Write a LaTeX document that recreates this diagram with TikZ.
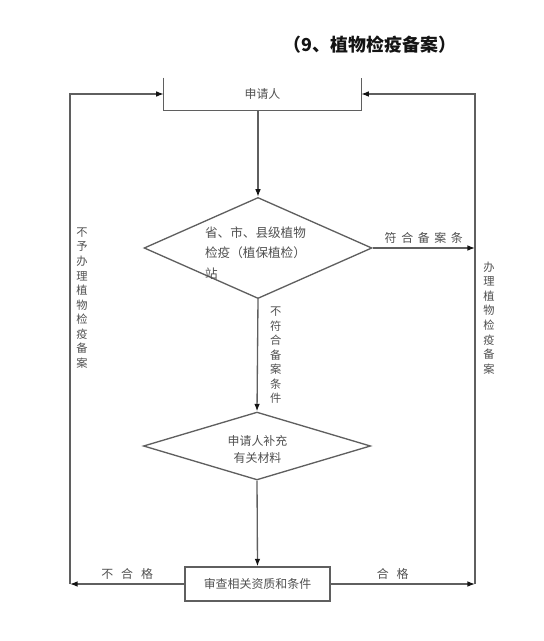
\documentclass[tikz,border=0pt]{standalone}
\usepackage{fontspec}
\setmainfont{Noto Sans CJK SC}
\usetikzlibrary{arrows.meta,positioning,shapes.geometric}
\definecolor{ink}{RGB}{20,20,20}
\definecolor{wiregray}{RGB}{95,95,95}
\definecolor{txtgray}{RGB}{80,80,80}
\newcommand{\chgap}[1][6pt]{\hspace{#1}}
\tikzset{
  flow/.style={line width=1pt,wiregray,-{Latex[length=2mm,width=1.5mm,color=ink]}},
  plain/.style={line width=1pt,wiregray},
  label/.style={font=\fontsize{9}{12}\selectfont,text=txtgray,inner sep=1pt},
  vlabel/.style={font=\fontsize{8.5}{11}\selectfont,text=txtgray,align=center,inner sep=0pt},
  decision/.style={diamond,draw=wiregray,line width=1pt,inner sep=0pt},
  checkbox/.style={draw=wiregray,line width=1pt,minimum width=3.84cm,minimum height=0.9cm,
    font=\fontsize{9}{12}\selectfont,text=txtgray}
}
\begin{document}
\begin{tikzpicture}[x=0.0265cm,y=-0.0265cm]
  \useasboundingbox (0,0) rectangle (543,641);
  \node[font=\bfseries\fontsize{13.5}{16}\selectfont,text=ink] (title) at (370,45) {（9、植物检疫备案）};
  \node[label,minimum width=5.22cm,minimum height=0.85cm] (app) at (262.5,94) {申请人};
  \draw[plain] (app.north west) -- (app.south west) -- (app.south east) -- (app.north east);
  \node[decision,minimum width=6.04cm,minimum height=2.68cm] (d1) at (258,248) {};
  \node[label,align=left,font=\fontsize{9.5}{15.5}\selectfont] (d1txt) at (255.5,253) {省、市、县级植物\\检疫（植保植检）\\站};
  \node[decision,minimum width=6.02cm,minimum height=1.8cm] (d2) at (257,446) {};
  \node[label,align=center,font=\fontsize{9}{12.75}\selectfont] (d2txt) at (257.5,449) {申请人补充\\有关材料};
  \node[checkbox] (chk) at (257.5,584) {审查相关资质和条件};
  \coordinate (lft) at (70,583);
  \coordinate (rgt) at (475,583);
  % connectors
  \draw[flow] (d1.north |- app.south) -- (d1.north);
  \draw[flow] (d1.south) -- (d2.north) node[midway,right=9pt,vlabel] {不\\符\\合\\备\\案\\条\\件};
  \draw[flow] (d1.east) -- (d1.east -| rgt) node[midway,above=2pt,label] {符\chgap[3.5pt]合\chgap[3.5pt]备\chgap[3.5pt]案\chgap[3.5pt]条};
  \draw[flow] (d2.south) -- (chk.north);
  \draw[flow] (chk.west) -- (chk.west -| lft) node[midway,above=2pt,label] {不\chgap 合\chgap 格};
  \draw[flow] (chk.east) -- (chk.east -| rgt) node[pos=0.43,above=2pt,label] {合\chgap 格};
  \draw[flow] (chk.west -| lft) |- (app.west);
  \draw[flow] (chk.east -| rgt) |- (app.east);
  % side labels
  \node[vlabel] (nolab) at (82,298) {不\\予\\办\\理\\植\\物\\检\\疫\\备\\案};
  \node[vlabel] (yeslab) at (489,318) {办\\理\\植\\物\\检\\疫\\备\\案};
\end{tikzpicture}
\end{document}
